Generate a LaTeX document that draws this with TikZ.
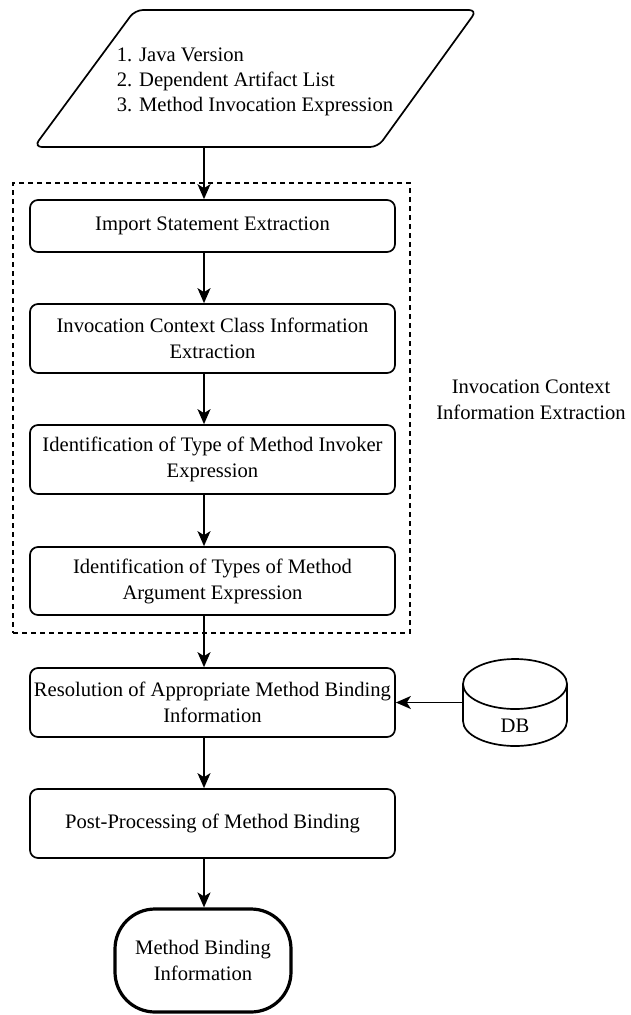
\documentclass[tikz,border=0pt]{standalone}
\usepackage{fontspec}
\setmainfont{LiberationSerif}[Extension=.ttf, UprightFont=*-Regular, BoldFont=*-Bold]
\usetikzlibrary{arrows.meta}

\begin{document}
\begin{tikzpicture}[x=1pt,y=-1pt,
  line width=1.7pt,
  font=\fontsize{20.6}{26}\selectfont,
  proc/.style={draw, rounded corners=8pt, minimum width=365pt, align=center, inner sep=0pt},
  flow/.style={-{Stealth[length=15pt,width=13pt,inset=4pt]}},
  grpbox/.style={draw, dash pattern=on 5pt off 4pt, inner sep=0pt},
  term/.style={draw, line width=3.2pt, rounded corners=40pt, minimum width=176pt, minimum height=103pt, align=center, inner sep=0pt},
]
\useasboundingbox (0,0) rectangle (631,1015);

% input parallelogram
\draw[rounded corners=8pt] (300,10) -- (477,10) -- (378,147) -- (34,147) -- (135,10) -- cycle;
\node[anchor=west, align=left, inner sep=0pt, font=\fontsize{20.6}{25}\selectfont] (inp) at (116,82) {1. Java Version\\2. Dependent Artifact List\\3. Method Invocation Expression};
\coordinate (inbot) at (204,147);

% group frame and its label
\node[grpbox, minimum width=397pt, minimum height=450pt] (grp) at (211.5,408) {};
\node[align=center] (grplbl) at (531,400) {Invocation Context\\Information Extraction};

% process steps
\node[proc, minimum height=52pt] (b1) at (212.5,226) {Import Statement Extraction};
\node[proc, minimum height=69pt] (b2) at (212.5,338.5) {Invocation Context Class Information\\Extraction};
\node[proc, minimum height=69pt] (b3) at (212.5,459.5) {Identification of Type of Method Invoker\\Expression};
\node[proc, minimum height=68pt] (b4) at (212.5,581) {Identification of Types of Method\\Argument Expression};
\node[proc, minimum height=69pt] (b5) at (212.5,702.5) {Resolution of Appropriate Method Binding\\Information};
\node[proc, minimum height=69pt] (b6) at (212.5,823.5) {Post-Processing of Method Binding};

% terminal
\node[term] (out) at (203,960.5) {Method Binding\\Information};

% database cylinder
\node[minimum width=104pt, minimum height=87pt, inner sep=0pt] (db) at (515,702.5) {};
\draw (515,684) ellipse [x radius=52pt, y radius=25pt];
\draw (463,684) -- (463,721) arc [start angle=180, end angle=360, x radius=52pt, y radius=25pt] -- (567,684);
\node (dbl) at (515,726) {DB};

% connectors
\coordinate (ax) at (204,0);
\draw[flow] (inbot) -- (b1.north -| ax);
\draw[flow] (b1.south -| ax) -- (b2.north -| ax);
\draw[flow] (b2.south -| ax) -- (b3.north -| ax);
\draw[flow] (b3.south -| ax) -- (b4.north -| ax);
\draw[flow] (b4.south -| ax) -- (b5.north -| ax);
\draw[flow] (b5.south -| ax) -- (b6.north -| ax);
\draw[flow] (b6.south -| ax) -- (out.north -| ax);
\draw[flow] (db.west) -- (b5.east);
\end{tikzpicture}
\end{document}
